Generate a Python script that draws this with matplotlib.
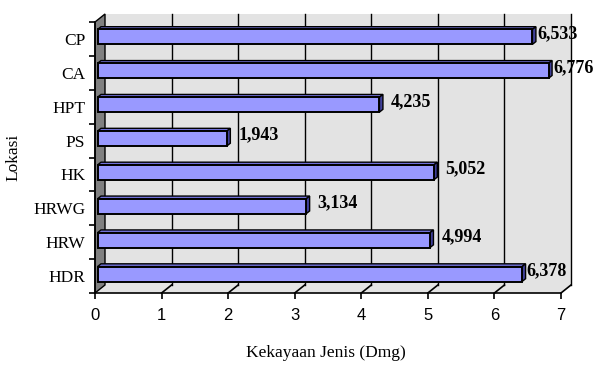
import matplotlib.pyplot as plt
from matplotlib.patches import Polygon, Rectangle

lokasi = ["HDR", "HRW", "HRWG", "HK", "PS", "HPT", "CA", "CP"]
kekayaan = [6.378, 4.994, 3.134, 5.052, 1.943, 4.235, 6.776, 6.533]
x_ticks = [0, 1, 2, 3, 4, 5, 6, 7]

SERIF = "Liberation Serif"
SANS = "Liberation Sans"

W, H = 593, 365
fig = plt.figure(figsize=(W / 100, H / 100), dpi=100)
ax = fig.add_axes([95 / W, 72 / H, 466 / W, 271 / H])
ax.set_xlim(0, 7)
ax.set_ylim(-0.5, len(lokasi) - 0.5)
ax.patch.set_visible(False)

# depth of the 3D box in data units (10 px right, 8 px up)
dx = 10 / 466 * 7
dy = 8 / 271 * len(lokasi)
y0, y1 = -0.5, len(lokasi) - 0.5

wall_c = "#e3e3e3"
# back wall
ax.add_patch(Rectangle((dx, y0 + dy), 7, y1 - y0, facecolor=wall_c,
                       edgecolor="none", clip_on=False, zorder=0))
# floor
ax.add_patch(Polygon([(0, y0), (7, y0), (7 + dx, y0 + dy), (dx, y0 + dy)],
                     closed=True, facecolor=wall_c, edgecolor="none",
                     clip_on=False, zorder=0))
# left wall
ax.add_patch(Polygon([(0, y0), (0, y1), (dx, y1 + dy), (dx, y0 + dy)],
                     closed=True, facecolor="#808080", edgecolor="black",
                     lw=1, clip_on=False, zorder=1))

# gridlines on back wall and floor
for t in x_ticks[1:]:
    ax.plot([t + dx, t + dx], [y0 + dy, y1 + dy], color="black", lw=1,
            clip_on=False, zorder=1)
    ax.plot([t, t + dx], [y0, y0 + dy], color="black", lw=1.2,
            clip_on=False, zorder=1)

# bars as simple boxes
h = 0.44
f1, f2 = 0.25, 0.6
for i, v in enumerate(kekayaan):
    fx, fy = dx * f1, dy * f1
    bx, by = dx * f2, dy * f2
    yb, yt = i + fy - h / 2, i + fy + h / 2
    ax.add_patch(Polygon([(fx, yt), (fx + v, yt), (bx + v, i + by + h / 2),
                          (bx, i + by + h / 2)], closed=True,
                         facecolor="#7070d8", edgecolor="black", lw=1,
                         clip_on=False, zorder=3))
    ax.add_patch(Polygon([(fx + v, yb), (fx + v, yt), (bx + v, i + by + h / 2),
                          (bx + v, i + by - h / 2)], closed=True,
                         facecolor="#404099", edgecolor="black", lw=1,
                         clip_on=False, zorder=3))
    ax.add_patch(Rectangle((fx, yb), v, h, facecolor="#9999ff",
                           edgecolor="black", lw=1.4, clip_on=False, zorder=4))
    gap = 1 if v > 6 else 8
    ax.annotate(f"{v:.3f}".replace(".", ","), xy=(bx + v, i + fy + 0.1),
                xytext=(gap, 0), textcoords="offset pixels", ha="left",
                va="center", fontsize=13, fontweight="bold",
                family=SERIF, zorder=5, annotation_clip=False)

for s in ["top", "right"]:
    ax.spines[s].set_visible(False)
ax.spines["left"].set_linewidth(1.2)
ax.spines["bottom"].set_linewidth(1.2)

ax.set_xticks(x_ticks)
ax.set_xticklabels([str(t) for t in x_ticks], family=SANS, fontsize=12)
ax.tick_params(axis="x", length=4, width=1.2, pad=7)
ax.set_yticks(range(len(lokasi)))
ax.set_yticklabels(lokasi, family=SERIF, fontsize=12.5)
ax.set_yticks([k - 0.5 for k in range(len(lokasi) + 1)], minor=True)
ax.tick_params(axis="y", which="major", length=0, pad=7)
ax.tick_params(axis="y", which="minor", length=4, width=1.2)

fig.text(13 / W, 1 - 157 / H, "Lokasi", rotation=90, ha="center",
         va="center", family=SERIF, fontsize=12.5)
fig.text(326 / W, 1 - 353 / H, "Kekayaan Jenis (Dmg)", ha="center",
         va="center", family=SERIF, fontsize=12.5)

fig.savefig("out.png", dpi=100)
